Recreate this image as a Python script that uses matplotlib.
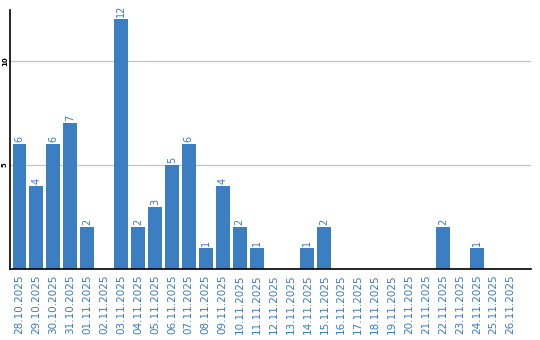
import matplotlib
matplotlib.use('Agg')
import matplotlib.pyplot as plt

dates = ['28.10.2025', '29.10.2025', '30.10.2025', '31.10.2025',
         '01.11.2025', '02.11.2025', '03.11.2025', '04.11.2025',
         '05.11.2025', '06.11.2025', '07.11.2025', '08.11.2025',
         '09.11.2025', '10.11.2025', '11.11.2025', '12.11.2025',
         '13.11.2025', '14.11.2025', '15.11.2025', '16.11.2025',
         '17.11.2025', '18.11.2025', '19.11.2025', '20.11.2025',
         '21.11.2025', '22.11.2025', '23.11.2025', '24.11.2025',
         '25.11.2025', '26.11.2025']
counts = [6, 4, 6, 7, 2, 0, 12, 2, 3, 5, 6, 1, 4, 2, 1, 0,
          0, 1, 2, 0, 0, 0, 0, 0, 0, 2, 0, 1, 0, 0]
y_ticks = [5, 10]

bar_color = '#3b7ec2'
text_color = '#3a7bbf'

fig = plt.figure(figsize=(5.4, 3.4), dpi=100)
ax = fig.add_axes([10 / 540, 71 / 340, 521 / 540, 259 / 340])

x = list(range(len(dates)))
ax.bar(x, counts, width=0.82, color=bar_color, zorder=2)

# value labels above the non-empty bars
for xi, v in zip(x, counts):
    if v > 0:
        ax.text(xi, v + 0.1, str(v), rotation=90, ha='center', va='bottom',
                color=text_color, fontsize=7)

ax.set_xlim(-0.56, 30.2)
ax.set_ylim(0, 12.45)
ax.set_xticks(x)
ax.set_xticklabels(dates, rotation=90, color=text_color, fontsize=7.5)
ax.set_yticks(y_ticks)
ax.set_yticklabels([str(t) for t in y_ticks], rotation=90, va='center',
                   fontsize=5, fontweight='bold')
ax.tick_params(axis='both', length=0)
ax.tick_params(axis='x', pad=4)
ax.tick_params(axis='y', pad=1.5)

ax.grid(axis='y', color='#c8c8c8', linewidth=1, zorder=0)
for side in ['top', 'right']:
    ax.spines[side].set_visible(False)
ax.spines['left'].set_linewidth(1.2)
ax.spines['bottom'].set_linewidth(1.2)

fig.savefig('out.png', dpi=100)
